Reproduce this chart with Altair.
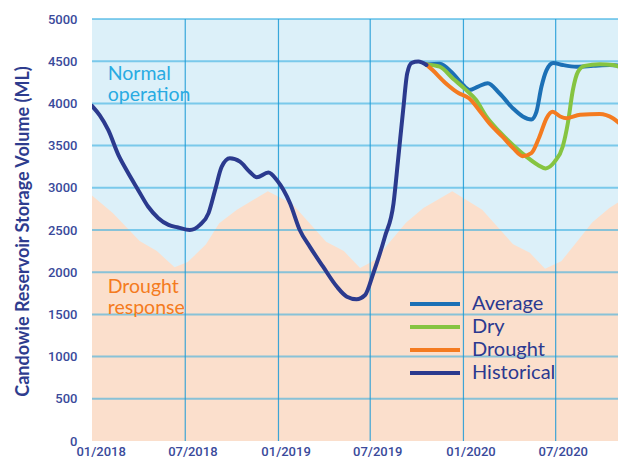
import altair as alt
import pandas as pd

# ---- data ----
THR_DATES = ["2017-12-29", "2018-02-08", "2018-04-02", "2018-05-06", "2018-06-10", "2018-07-06",
             "2018-08-11", "2018-09-06", "2018-10-11", "2018-12-11", "2019-01-28", "2019-04-05",
             "2019-05-10", "2019-06-11", "2019-07-11", "2019-08-05", "2019-09-10", "2019-10-14",
             "2019-12-10", "2020-02-07", "2020-04-08", "2020-05-11", "2020-06-10", "2020-07-12",
             "2020-08-08", "2020-09-11", "2020-10-15", "2020-11-17"]
THR_VALUES = [2910, 2700, 2370, 2250, 2060, 2120,
              2330, 2580, 2740, 2960, 2810, 2360,
              2250, 2050, 2145, 2330, 2590, 2760,
              2960, 2740, 2330, 2230, 2040, 2130,
              2330, 2590, 2760, 2890]

HIST_DATES = ["2017-12-29", "2018-01-13", "2018-01-30", "2018-02-19", "2018-03-07", "2018-03-30",
              "2018-04-19", "2018-05-09", "2018-05-29", "2018-06-17", "2018-07-10", "2018-07-30",
              "2018-08-16", "2018-08-29", "2018-09-11", "2018-09-27", "2018-10-17", "2018-11-05",
              "2018-11-19", "2018-12-12", "2018-12-29", "2019-01-24", "2019-02-12", "2019-03-04",
              "2019-03-30", "2019-04-26", "2019-05-16", "2019-06-04", "2019-06-21", "2019-07-07",
              "2019-07-30", "2019-08-16", "2019-08-25", "2019-09-04", "2019-09-12", "2019-09-21",
              "2019-10-04", "2019-10-20"]
HIST_VALUES = [3970, 3860, 3685, 3390, 3210, 2975,
               2775, 2640, 2560, 2530, 2500, 2560,
               2700, 2975, 3250, 3350, 3310, 3190,
               3125, 3180, 3090, 2815, 2500, 2300,
               2065, 1830, 1710, 1680, 1730, 1985,
               2420, 2815, 3330, 3920, 4355, 4480,
               4495, 4455]

AVG_DATES = ["2019-10-20", "2019-11-15", "2019-12-11", "2019-12-28", "2020-01-13", "2020-01-30",
             "2020-02-18", "2020-03-12", "2020-04-08", "2020-04-27", "2020-05-14", "2020-05-24",
             "2020-06-03", "2020-06-13", "2020-06-26", "2020-07-15", "2020-08-11", "2020-09-13",
             "2020-10-16", "2020-11-17"]
AVG_VALUES = [4460, 4470, 4355, 4240, 4160, 4200,
              4240, 4120, 3940, 3845, 3810, 3900,
              4200, 4395, 4480, 4455, 4435, 4445,
              4455, 4435]

DRY_DATES = ["2019-10-20", "2019-11-15", "2019-12-11", "2020-01-06", "2020-01-26", "2020-02-15",
             "2020-03-12", "2020-04-08", "2020-05-04", "2020-05-27", "2020-06-11", "2020-06-29",
             "2020-07-15", "2020-07-25", "2020-08-04", "2020-08-14", "2020-08-27", "2020-09-26",
             "2020-10-22", "2020-11-17"]
DRY_VALUES = [4460, 4435, 4295, 4160, 4040, 3845,
              3665, 3505, 3370, 3270, 3230, 3310,
              3490, 3765, 4160, 4375, 4445, 4465,
              4455, 4395]

DROUGHT_DATES = ["2019-10-20", "2019-11-01", "2019-11-27", "2019-12-23", "2020-01-12", "2020-02-01",
                 "2020-02-21", "2020-03-18", "2020-04-08", "2020-04-27", "2020-05-14", "2020-05-30",
                 "2020-06-13", "2020-06-25", "2020-07-10", "2020-07-23", "2020-08-18", "2020-09-26",
                 "2020-10-22", "2020-11-17"]
DROUGHT_VALUES = [4460, 4395, 4240, 4120, 4060, 3920,
                  3765, 3605, 3470, 3375, 3410, 3605,
                  3825, 3900, 3845, 3825, 3865, 3875,
                  3825, 3685]

SERIES = ["Average", "Dry", "Drought", "Historical"]
COLORS = ["#1c70b5", "#86c441", "#f47b20", "#2b3a8e"]

GRID_Y = [500, 1000, 1500, 2000, 2500, 3000, 3500, 4000, 4500, 5000]
GRID_X = ["2018-07-01", "2019-01-01", "2019-07-01", "2020-01-01", "2020-07-01"]
Y_TICKS = [0, 500, 1000, 1500, 2000, 2500, 3000, 3500, 4000, 4500, 5000]
X_TICKS = [(2018, 1), (2018, 7), (2019, 1), (2019, 7), (2020, 1), (2020, 7)]

NOTE_TEXT = ["Normal", "operation", "Drought", "response"]
NOTE_DATE = ["2018-01-29", "2018-01-29", "2018-01-29", "2018-01-29"]
NOTE_VALUE = [4277, 4030, 1753, 1506]
NOTE_COLOR = ["#29abe2", "#29abe2", "#f47b20", "#f47b20"]

# ---- tables ----
thr = pd.DataFrame({"date": THR_DATES, "value": THR_VALUES})
lines = pd.concat([
    pd.DataFrame({"date": AVG_DATES, "value": AVG_VALUES, "series": "Average"}),
    pd.DataFrame({"date": DRY_DATES, "value": DRY_VALUES, "series": "Dry"}),
    pd.DataFrame({"date": DROUGHT_DATES, "value": DROUGHT_VALUES, "series": "Drought"}),
    pd.DataFrame({"date": HIST_DATES, "value": HIST_VALUES, "series": "Historical"}),
], ignore_index=True)
gy = pd.DataFrame({"value": GRID_Y})
gx = pd.DataFrame({"date": GRID_X})
notes = pd.DataFrame({"date": NOTE_DATE, "value": NOTE_VALUE, "text": NOTE_TEXT, "color": NOTE_COLOR})

TXT = "#3a4a9b"
x_scale = alt.Scale(type="utc", domain=[alt.DateTime(year=2017, month=12, date=29, utc=True),
                                        alt.DateTime(year=2020, month=11, date=1, utc=True)])
y_scale = alt.Scale(domain=[0, 5000], nice=False)

x_axis = alt.Axis(values=[alt.DateTime(year=y, month=m, date=15, utc=True) for y, m in X_TICKS],
                  format="%m/%Y", grid=False, ticks=False, tickSize=0, domain=False,
                  labelPadding=14, labelBaseline="alphabetic", labelFontSize=13,
                  labelFont="Roboto", labelFontWeight=500, labelColor=TXT,
                  labelFlush=False, labelOverlap=False, title=None)
y_axis = alt.Axis(values=Y_TICKS, format="d", grid=False, ticks=False, tickSize=0, domain=False,
                  labelPadding=15, labelFontSize=13, labelFont="Roboto", labelFontWeight=500,
                  labelColor=TXT, title="Candowie Reservoir Storage Volume (ML)",
                  titleFont="Lato", titleFontSize=18, titleFontWeight="bold", titleColor="#2e3c8e",
                  titleAngle=270, titleX=-64, titleY=212, titleAlign="center",
                  titleBaseline="alphabetic")

X = alt.X("date:T", scale=x_scale, axis=x_axis)
Y = alt.Y("value:Q", scale=y_scale, axis=y_axis)

area = alt.Chart(thr).mark_area(color="#fbdfcc", interpolate="linear", clip=True).encode(x=X, y=Y)
hrule = alt.Chart(gy).mark_rule(color="#29a9e0", strokeWidth=2, opacity=0.55).encode(y=Y)
vrule = alt.Chart(gx).mark_rule(color="#1b9ad6", strokeWidth=1.2, opacity=0.85).encode(x=X)

line = alt.Chart(lines).mark_line(strokeWidth=4, interpolate="monotone", strokeCap="round",
                                  strokeJoin="round", clip=True).encode(
    x=X, y=Y,
    color=alt.Color("series:N", scale=alt.Scale(domain=SERIES, range=COLORS),
                    legend=alt.Legend(orient="none", legendX=331, legendY=273, title=None,
                                      symbolType="M-2.5,0H2.5", symbolSize=400,
                                      symbolStrokeWidth=4, labelFontSize=20, labelFont="Lato",
                                      labelColor="#2b3990", labelOffset=25, rowPadding=1,
                                      padding=0)),
)

text = alt.Chart(notes).mark_text(align="left", baseline="alphabetic", fontSize=19.5,
                                  font="Lato").encode(
    x=X, y=Y, text="text:N",
    color=alt.Color("color:N", scale=None, legend=None),
)

chart = alt.layer(area, hrule, vrule, line, text).properties(
    width=526, height=422,
    padding={"left": 84, "top": 11, "right": 0, "bottom": 18},
    autosize=alt.AutoSizeParams(type="none"),
    background="white",
).configure_view(fill="#dcf0f9", stroke=None)

chart.save("out.html", embed_options={"renderer": "svg", "actions": False})
